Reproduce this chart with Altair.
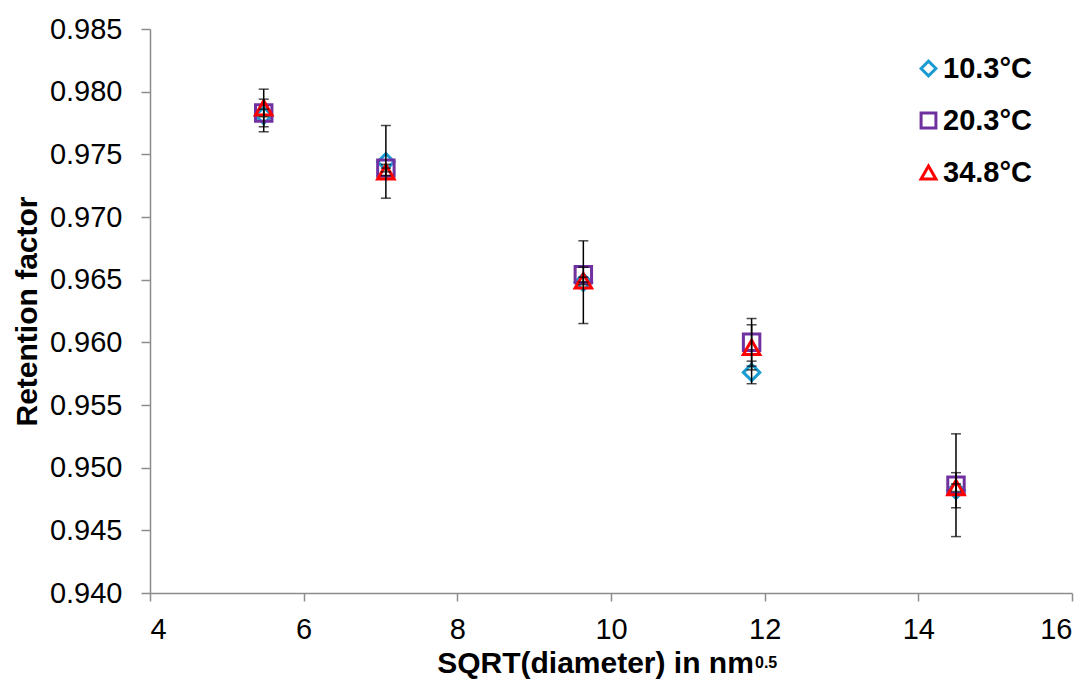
import altair as alt
import pandas as pd

# --- data ---
series_names = ["10.3°C", "20.3°C", "34.8°C"]
x_vals = [5.48, 7.07, 9.64, 11.83, 14.49]

y_103 = [0.9781, 0.9744, 0.9648, 0.9576, 0.9482]
e_103 = [0.0013, 0.0029, 0.0033, 0.0009, 0.0014]

y_203 = [0.9783, 0.9739, 0.9654, 0.9600, 0.9486]
e_203 = [0.0003, 0.0003, 0.0006, 0.0019, 0.0041]

y_348 = [0.9787, 0.9736, 0.9649, 0.9596, 0.9484]
e_348 = [0.0015, 0.0003, 0.0003, 0.0018, 0.0003]

x_ticks = [4, 6, 8, 10, 12, 14, 16]
y_ticks = [0.940, 0.945, 0.950, 0.955, 0.960, 0.965, 0.970, 0.975, 0.980, 0.985]

colors = ["#1A9BD2", "#7030A0", "#FF0000"]
shapes = ["diamond", "square", "triangle-up"]

rows = []
for name, ys, es in zip(series_names, [y_103, y_203, y_348], [e_103, e_203, e_348]):
    for x, y, e in zip(x_vals, ys, es):
        rows.append({"series": name, "x": x, "y": y, "lo": y - e, "hi": y + e})
df = pd.DataFrame(rows)

FONT = "Liberation Sans"

xs = alt.Scale(domain=[4, 16], nice=False, zero=False)
ys_ = alt.Scale(domain=[0.940, 0.985], nice=False, zero=False)

base = alt.Chart(df)

leg = alt.Legend(title=None, orient="none", legendX=764, legendY=25)

points = base.mark_point(filled=False, strokeWidth=3, size=270, opacity=1).encode(
    x=alt.X("x:Q", scale=xs, axis=alt.Axis(
        title="SQRT(diameter) in nm", values=x_ticks, format="d",
        titlePadding=4, titleX=445, titleAnchor="middle", titleFontSize=30)),
    y=alt.Y("y:Q", scale=ys_, axis=alt.Axis(
        title="Retention factor", values=y_ticks, format=".3f", titlePadding=7,
        titleFontSize=30)),
    color=alt.Color("series:N", scale=alt.Scale(domain=series_names, range=colors), legend=leg),
    shape=alt.Shape("series:N", scale=alt.Scale(domain=series_names, range=shapes), legend=leg),
    order=alt.Order("series:N"),
)

rules = base.mark_rule(color="black", strokeWidth=1.5).encode(
    x=alt.X("x:Q", scale=xs), y=alt.Y("lo:Q", scale=ys_), y2="hi:Q")

caps = base.transform_fold(["lo", "hi"], as_=["end", "val"]).mark_tick(
    color="black", thickness=1.5, size=10, orient="horizontal").encode(
    x=alt.X("x:Q", scale=xs), y=alt.Y("val:Q", scale=ys_))

sup = alt.Chart(pd.DataFrame({"t": ["0.5"]})).mark_text(
    font=FONT, fontSize=16, fontWeight="bold", align="left", baseline="alphabetic", color="black"
).encode(text="t:N", x=alt.value(605), y=alt.value(639))

chart = alt.layer(points, rules, caps, sup).properties(
    width=922, height=564,
    autosize=alt.AutoSizeParams(type="none"),
    padding={"left": 142, "top": 21, "right": 10, "bottom": 90},
).configure_view(stroke=None).configure_axis(
    grid=False, domainColor="#8c8c8c", tickColor="#8c8c8c", domainWidth=1.5, tickWidth=1.5,
    labelFont=FONT, labelFontSize=29, labelColor="black",
    titleFont=FONT, titleFontWeight="bold", titleColor="black",
).configure_axisY(tickSize=9, labelPadding=19).configure_axisX(tickSize=8, labelPadding=14).configure_legend(
    labelFont=FONT, labelFontSize=29, labelFontWeight="bold", labelColor="black",
    symbolSize=220, symbolStrokeWidth=3, rowPadding=22, labelOffset=0,
)

chart.save("out.html", embed_options={"renderer": "svg", "actions": False})
